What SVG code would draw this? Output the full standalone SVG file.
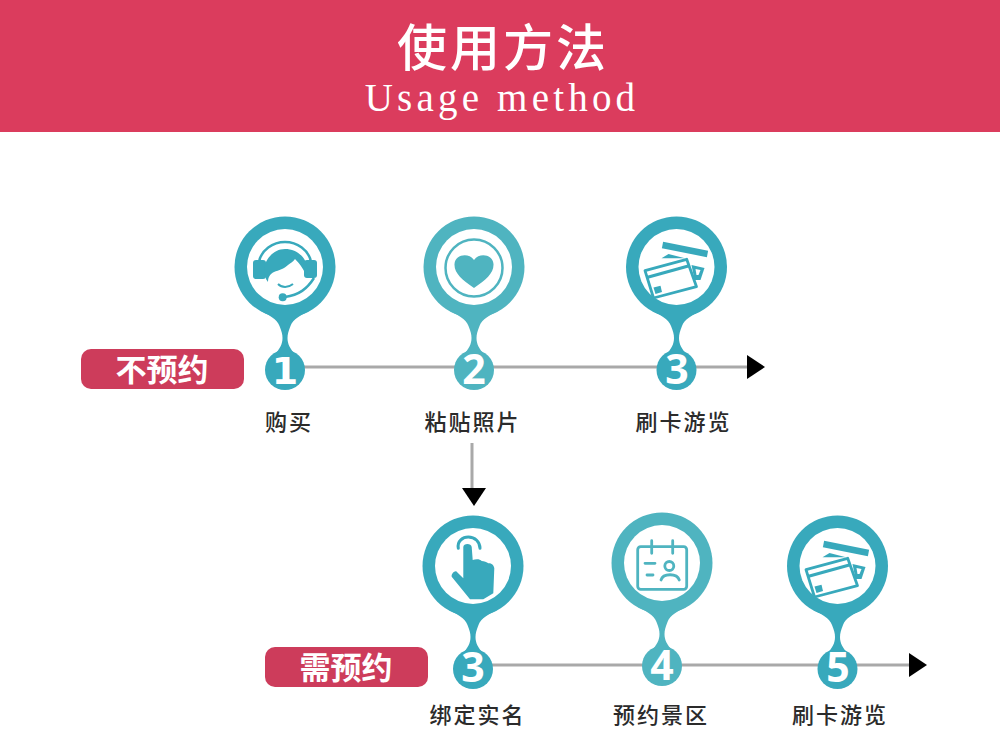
<svg xmlns="http://www.w3.org/2000/svg" xmlns:xlink="http://www.w3.org/1999/xlink" width="1000" height="750" viewBox="0 0 1000 750">
<style>
.cjk{font-family:"Noto Sans CJK SC","Noto Sans",sans-serif}
.lab{font-size:22px;fill:#2b2b2b;text-anchor:middle;letter-spacing:2px;font-weight:500}
.badge{fill:#cd3c5b}
.btxt{font-size:31px;font-weight:700;fill:#fff;text-anchor:middle}
.num{font-family:"Open Sans","Liberation Sans",sans-serif;font-weight:700;font-size:41px;fill:#fff;text-anchor:middle}
.one{font-family:"DejaVu Sans","Liberation Sans",sans-serif;font-size:38px}
.conn{stroke:#a9a9a9;stroke-width:3;fill:none}
.t1{fill:#38a9bc;color:#38a9bc}
.t2{fill:#4fb4c0;color:#4fb4c0}
</style>
<defs>
<marker id="arr" markerUnits="userSpaceOnUse" markerWidth="18" markerHeight="24" refX="1" refY="12" orient="auto"><path d="M0,0L18,12L0,24Z" fill="#000"/></marker>
<marker id="arrd" markerUnits="userSpaceOnUse" markerWidth="18" markerHeight="24" refX="1" refY="14" orient="auto"><path d="M0,0L18,12L0,24Z" fill="#000"/></marker>
<g id="pin">
<circle cx="0" cy="0" r="50.500" fill="currentColor"/>
<circle cx="0" cy="103" r="20" fill="currentColor"/>
<path d="M-24,44C-16,48-8,52-5.500,59C-3.500,64-2.500,67-2.500,71C-2.500,77-5,82-11,88L11,88C5,82 2.500,77 2.500,71C2.500,67 3.500,64 5.500,59C8,52 16,48 24,44Z" fill="currentColor"/>
<circle cx="0" cy="0" r="38" fill="#fff"/>
</g>
<g id="cards">
<path d="M-14,-22L31,-13" stroke="currentColor" stroke-width="6.500" fill="none"/>
<path d="M-15,-8.700L-8,-13L8.500,-8.700Z" fill="currentColor"/>
<path d="M15,-2L28,1L24,13L18,13Z" fill="currentColor"/>
<path d="M19,2L24,3L22,8L20,8Z" fill="#fff"/>
<path d="M-31.500,3.700L10.200,-7.700L20,19.700L-23,31Z" fill="#fff" stroke="currentColor" stroke-width="2.800" stroke-linejoin="round"/>
<path d="M-28.800,10.300L11.800,-1" stroke="currentColor" stroke-width="3.200" fill="none"/>
<path d="M-23,20.500L-16,18.700L-14.500,25L-21,27Z" fill="currentColor"/>
</g>
</defs>
<rect x="0" y="0" width="1000" height="132" fill="#db3c5d"/>
<text id="title" class="cjk" x="503" y="66" font-size="50" font-weight="500" fill="#fff" text-anchor="middle" letter-spacing="3">使用方法</text>
<text id="subtitle" x="502" y="111" font-family="'Liberation Serif',serif" font-size="39" fill="#fff" text-anchor="middle" letter-spacing="4.200">Usage method</text>
<g id="connectors">
<path class="conn" d="M300,367H748" marker-end="url(#arr)"/>
<path class="conn" d="M490,665H910" marker-end="url(#arr)"/>
<path class="conn" d="M472,443V489" marker-end="url(#arrd)"/>
</g>
<g id="badge-no">
<rect class="badge" x="81" y="349" width="163" height="40" rx="10"/>
<text class="cjk btxt" x="162" y="381">不预约</text>
</g>
<g id="badge-need">
<rect class="badge" x="265" y="647" width="163" height="40" rx="10"/>
<text class="cjk btxt" x="346" y="679">需预约</text>
</g>
<g id="node-1" class="t1">
<use xlink:href="#pin" transform="translate(285,267)"/>
<text class="num one" x="285" y="384">1</text>
<g transform="translate(285,267)">
<path d="M-26,-5C-24,-17-12,-25 0,-25C12,-25 24,-17 26,-5" fill="none" stroke="currentColor" stroke-width="2.500"/>
<rect x="-32" y="-7" width="13" height="19" rx="3"/>
<rect x="19" y="-7" width="13" height="18" rx="3"/>
<path d="M-17,15C-27,2-16,-18 0,-18C14,-18 26,-6 22,11C20,4 15,-3 10,-8C8,-5 5,-4 3,-2C-1,2-6,3-11,5C-15,7-17,10-17,15Z"/>
<path d="M-7,17C-3,21 3,21 8,17" fill="none" stroke="currentColor" stroke-width="2"/>
<path d="M29,11C22,22 14,28 0,30" fill="none" stroke="currentColor" stroke-width="2.500"/>
<circle cx="-2.300" cy="30.300" r="4"/>
</g>
<text class="cjk lab" x="289" y="430">购买</text>
</g>
<g id="node-2" class="t2">
<use xlink:href="#pin" transform="translate(474,267)"/>
<text class="num" x="474" y="384">2</text>
<circle cx="474" cy="268" r="28.500" fill="none" stroke="currentColor" stroke-width="2.500"/>
<path d="M474,288C462,280 454,273 454.500,264C455,255 468,252 474,260C480,252 493,255 493.500,264C494,273 486,280 474,288Z"/>
<text class="cjk lab" x="472.500" y="430">粘贴照片</text>
</g>
<g id="node-3" class="t1">
<use xlink:href="#pin" transform="translate(676.500,267)"/>
<text class="num" x="677" y="384">3</text>
<use xlink:href="#cards" transform="translate(676.500,267)"/>
<text class="cjk lab" x="683.500" y="430">刷卡游览</text>
</g>
<g id="node-3b" class="t1">
<use xlink:href="#pin" transform="translate(473,566)"/>
<text class="num" x="473" y="682">3</text>
<g transform="translate(473,566)">
<path d="M-14.700,-17.700C-16,-25-10,-29-4.700,-29C2,-29 7,-24 7,-17.700" fill="none" stroke="currentColor" stroke-width="3" stroke-linecap="round"/>
<path d="M-9.700,12.300L-9.700,-19C-9.700,-23-1.500,-23-1.300,-19L-.3,-6C3,-7 7,-7 8.700,-5C11,-5 14,-4 15.300,-2.700C18,-3 21,-1 21.300,2.300L20.300,27.300L10.300,33.300L-3,33.300L-21.300,10.700C-22,8-18,4-16.300,5.700Z"/>
</g>
<text class="cjk lab" x="477.500" y="723">绑定实名</text>
</g>
<g id="node-4" class="t2">
<use xlink:href="#pin" transform="translate(662,563)"/>
<text class="num" x="662" y="680">4</text>
<g transform="translate(662,563)" fill="none" stroke="currentColor" stroke-width="2.800" stroke-linecap="round">
<rect x="-24.300" y="-16.300" width="49" height="42.600" rx="3"/>
<path d="M-10.300,-22.300V-9.700M10.700,-22.300V-9.700M-17,.3H-7M-15,12H-9"/>
<circle cx="7.300" cy="3" r="4.500"/>
<path d="M-1,17C1,10 15,10 17.300,17"/>
</g>
<text class="cjk lab" x="661" y="723">预约景区</text>
</g>
<g id="node-5" class="t1">
<use xlink:href="#pin" transform="translate(837.500,566)"/>
<text class="num" x="838" y="682">5</text>
<use xlink:href="#cards" transform="translate(837.500,566)"/>
<text class="cjk lab" x="840" y="723">刷卡游览</text>
</g>
</svg>
